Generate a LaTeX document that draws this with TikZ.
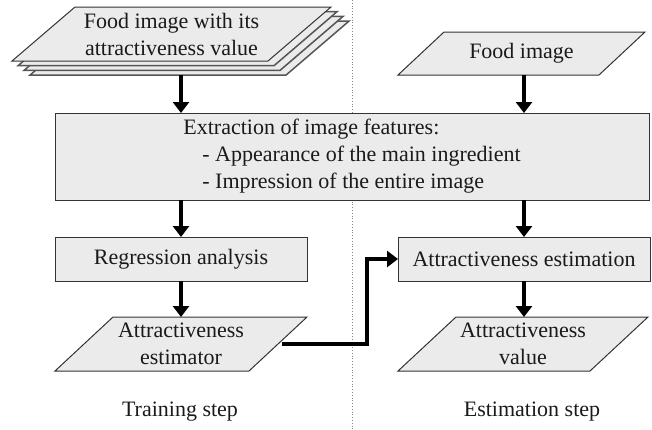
\documentclass[tikz,border=0pt]{standalone}
\usepackage{fontspec}
\setmainfont{Liberation Serif}
\usetikzlibrary{arrows.meta,calc,backgrounds}
\definecolor{BoxFill}{HTML}{EBEBEB}
\definecolor{EdgeLine}{HTML}{333333}
\definecolor{LayerLine}{HTML}{555555}
\definecolor{TextMain}{HTML}{1A1A1A}
\definecolor{SplitLine}{HTML}{888888}

\tikzset{
  procbox/.style={rectangle, draw=EdgeLine, fill=BoxFill, line width=1pt,
    inner sep=0pt, outer sep=0pt, text=TextMain},
  databox/.style={rectangle, inner sep=0pt, outer sep=0pt, align=center, text=TextMain},
  paraline/.style={draw=EdgeLine, fill=BoxFill, line width=1pt, line join=miter},
  flow/.style={line width=4pt, -{Triangle[width=16pt,length=11pt]}},
}
% parallelogram round a databox node: #2 = node, #3 = slant, #4 = offset
\newcommand{\paradraw}[4][]{%
  \path[paraline, #1] ($(#2.south west)+#4$) -- ($(#2.north west)+(#3,0)+#4$)
    -- ($(#2.north east)+#4$) -- ($(#2.south east)+(-#3,0)+#4$) -- cycle;}

\begin{document}
\begin{tikzpicture}[x=1pt, y=-1pt, font=\fontsize{22}{27}\selectfont]
		\useasboundingbox (0,0) rectangle (652,429);
		
		% Inputs
		\node[databox, minimum width=319pt, minimum height=54pt] (stack) at (171.5,34) {Food image with its\\attractiveness value};
		\node[databox, minimum width=247pt, minimum height=43pt] (food) at (521.5,53.5) {Food image};
		\coordinate (stackbot) at ($(stack.south)+(18,14)$);
		
		% Processing
		\node[procbox, minimum width=594pt, minimum height=87pt, align=left] (extract) at (352,156.5)
			{Extraction of image features:\\\hspace*{19pt}- Appearance of the main ingredient\\\hspace*{19pt}- Impression of the entire image};
		\node[procbox, minimum width=252pt, minimum height=44pt] (regr) at (181,259) {Regression analysis};
		\node[procbox, minimum width=252pt, minimum height=44pt] (estim) at (524,259) {Attractiveness estimation};
		
		% Outputs
		\node[databox, minimum width=252pt, minimum height=54pt] (estor) at (181,344) {Attractiveness\\estimator};
		\node[databox, minimum width=250pt, minimum height=54pt] (value) at (523,344) {Attractiveness\\value};
		
		% Labels
		\node[text=TextMain] (trainlbl) at (180,412) {Training step};
		\node[text=TextMain] (estlbl) at (532,412) {Estimation step};
		
		% Divider and data shapes
		\begin{pgfonlayer}{background}
			\draw[SplitLine, dotted, line width=0.8pt] (352,0) -- (352,429);
			\foreach \k in {3,2,1}{
				\paradraw[draw=LayerLine, line width=1.5pt]{stack}{63}{(6*\k,4.7*\k)}
			}
			\paradraw{stack}{63}{(0,0)}
			\paradraw{food}{46}{(0,0)}
			\paradraw{estor}{58}{(0,0)}
			\paradraw{value}{58}{(0,0)}
		\end{pgfonlayer}
		
		% Arrows
		\coordinate (bend) at (367,344);
		\draw[flow] (stackbot -| regr) -- (extract.north -| regr);
		\draw[flow] (food.south -| estim) -- (extract.north -| estim);
		\draw[flow] (extract.south -| regr) -- (regr.north);
		\draw[flow] (extract.south -| estim) -- (estim.north);
		\draw[flow] (regr.south) -- (estor.north);
		\draw[flow] (estim.south) -- (value.north -| estim);
		\draw[flow] ($(estor.east)+(-25,0)$) -- (bend) |- (estim.west);
	\end{tikzpicture}
\end{document}
